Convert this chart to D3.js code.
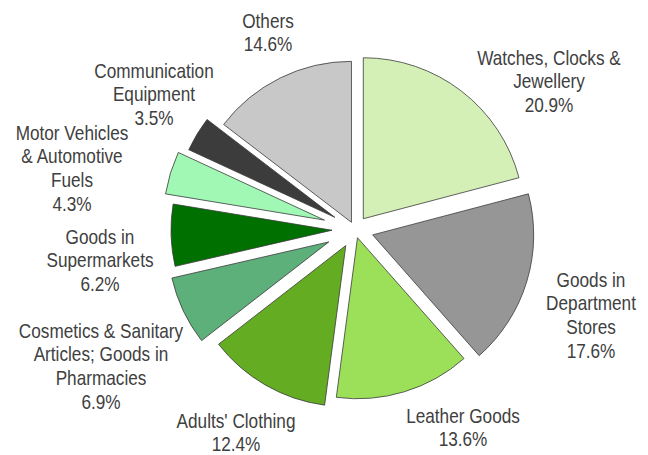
<!DOCTYPE html>
<html>
<head>
<meta charset="utf-8">
<script src="https://cdn.jsdelivr.net/npm/d3@7"></script>
<style>
  html, body { margin: 0; padding: 0; background: #ffffff; }
  svg { display: block; }
  text { font-family: "Liberation Sans", Arial, sans-serif; }
</style>
</head>
<body>
<svg id="chart" width="648" height="455"></svg>
<script>
// ---- data ----
const categories = [
  "Watches, Clocks & Jewellery",
  "Goods in Department Stores",
  "Leather Goods",
  "Adults' Clothing",
  "Cosmetics & Sanitary Articles; Goods in Pharmacies",
  "Goods in Supermarkets",
  "Motor Vehicles & Automotive Fuels",
  "Communication Equipment",
  "Others"
];
const shares = [20.9, 17.6, 13.6, 12.4, 6.9, 6.2, 4.3, 3.5, 14.6];
const labelLines = [
  ["Watches, Clocks &", "Jewellery"],
  ["Goods in", "Department", "Stores"],
  ["Leather Goods"],
  ["Adults' Clothing"],
  ["Cosmetics & Sanitary", "Articles; Goods in", "Pharmacies"],
  ["Goods in", "Supermarkets"],
  ["Motor Vehicles", "& Automotive", "Fuels"],
  ["Communication", "Equipment"],
  ["Others"]
];

// ---- styling / layout ----
const colors = ["#d4f0b6", "#969696", "#9ce05a", "#64ac22", "#5eb07a", "#007000", "#a0f8b4", "#3c3c3c", "#c8c8c8"];
const explode = [13.6, 18.5, 8.6, 18.5, 29, 23, 32, 23.5, 8];
const labelPos = [
  [549, 57], [591, 279], [463, 415], [236, 420], [101, 330],
  [100, 236], [72, 132], [154, 70], [268, 20]
];
const cx = 355, cy = 229.5, R = 161, lineH = 23.8, squeeze = 0.86;

const svg = d3.select("#chart");
const data = categories.map((c, i) => ({ name: c, value: shares[i], i }));

const pie = d3.pie().value(d => d.value).sort(null).startAngle(0).endAngle(2 * Math.PI);
const arc = d3.arc().innerRadius(0).outerRadius(R);
const arcs = pie(data);

const g = svg.append("g").attr("transform", `translate(${cx},${cy})`);
g.selectAll("path.slice")
  .data(arcs)
  .join("path")
  .attr("class", "slice")
  .attr("d", arc)
  .attr("fill", d => colors[d.data.i])
  .attr("stroke", "#3a3a3a")
  .attr("stroke-width", 0.8)
  .attr("stroke-linejoin", "miter")
  .attr("transform", d => {
    const a = (d.startAngle + d.endAngle) / 2;
    const e = explode[d.data.i];
    return `translate(${e * Math.sin(a)},${-e * Math.cos(a)})`;
  });

const fmt = d3.format(".1f");
const labels = svg.append("g");
arcs.forEach(d => {
  const i = d.data.i;
  const lines = labelLines[i].concat([fmt(d.data.value) + "%"]);
  const t = labels.append("text")
    .attr("transform", `translate(${labelPos[i][0]},${labelPos[i][1]}) scale(${squeeze},1)`)
    .attr("text-anchor", "middle")
    .attr("dominant-baseline", "central")
    .attr("fill", "#404040")
    .attr("font-size", 20);
  lines.forEach((ln, k) => {
    t.append("tspan")
      .attr("x", 0)
      .attr("y", k * lineH)
      .text(ln);
  });
});
</script>
</body>
</html>
